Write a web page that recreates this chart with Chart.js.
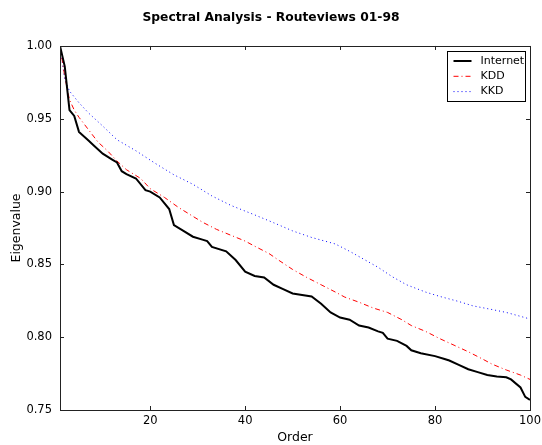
<!DOCTYPE html>
<html>
<head>
<meta charset="utf-8">
<script src="https://cdn.jsdelivr.net/npm/chart.js@4.4.0/dist/chart.umd.min.js"></script>
<style>
  html, body { margin: 0; padding: 0; background: #fff; }
</style>
</head>
<body>
<canvas id="myChart" width="542" height="445"></canvas>
<script>
// values
const internetOrder = [1, 2, 3, 4, 5, 7, 8, 10, 12, 13, 14, 15, 17, 19, 20, 22, 24, 25, 27, 29, 31, 32, 33, 36, 38, 40, 42, 44, 46, 48, 50, 52, 54, 56, 58, 60, 62, 64, 66, 68, 69, 70, 72, 74, 75, 77, 80, 82, 83, 85, 87, 89, 91, 93, 95, 96, 98, 99, 100];
const internetValue = [1.000, 0.986, 0.956, 0.952, 0.941, 0.935, 0.932, 0.926, 0.922, 0.920, 0.914, 0.912, 0.909, 0.901, 0.900, 0.896, 0.888, 0.877, 0.873, 0.869, 0.867, 0.866, 0.862, 0.859, 0.853, 0.845, 0.842, 0.841, 0.836, 0.833, 0.830, 0.829, 0.828, 0.823, 0.817, 0.8135, 0.812, 0.808, 0.8066, 0.804, 0.803, 0.799, 0.7975, 0.794, 0.791, 0.789, 0.787, 0.785, 0.784, 0.781, 0.778, 0.776, 0.774, 0.773, 0.7725, 0.771, 0.7655, 0.759, 0.757];

const kddOrder = [1, 2, 3, 4, 5, 7, 9, 11, 13, 15, 18, 20, 23, 26, 31, 34, 37, 40, 42, 45, 47, 50, 53, 56, 59, 61, 64, 67, 70, 73, 75, 78, 81, 84, 87, 90, 92, 95, 98, 100];
const kddValue = [1.000, 0.979, 0.963, 0.956, 0.951, 0.9425, 0.934, 0.928, 0.921, 0.915, 0.909, 0.902, 0.896, 0.889, 0.879, 0.874, 0.870, 0.866, 0.8625, 0.8575, 0.853, 0.8465, 0.841, 0.836, 0.831, 0.8275, 0.824, 0.820, 0.817, 0.812, 0.808, 0.804, 0.799, 0.7945, 0.790, 0.785, 0.7815, 0.7775, 0.774, 0.771];

const kkdOrder = [1, 2, 3, 5, 7, 10, 13, 17, 21, 25, 29, 33, 37, 42, 46, 50, 54, 59, 62, 65, 68, 71, 74, 78, 81, 85, 88, 92, 95, 100];
const kkdValue = [1.000, 0.977, 0.969, 0.961, 0.954, 0.945, 0.9356, 0.928, 0.9195, 0.9115, 0.905, 0.897, 0.8905, 0.884, 0.8786, 0.873, 0.8685, 0.864, 0.859, 0.8535, 0.848, 0.8415, 0.836, 0.831, 0.828, 0.8245, 0.8215, 0.819, 0.817, 0.8125];

const xTicks = [20, 40, 60, 80, 100];
const yTicks = [0.75, 0.80, 0.85, 0.90, 0.95, 1.00];

const seriesNames = ["Internet", "KDD", "KKD"];
const seriesColors = ["#000000", "#ff0000", "#0000ff"];
const seriesWidths = [2, 1, 1];
const seriesDash = [[], [5, 3, 1, 3], [1, 3]];

function toPoints(xs, ys) {
  return xs.map((x, i) => ({ x: x, y: ys[i] }));
}

const FONT = "'DejaVu Sans', sans-serif";

// frame, inward ticks and the boxed legend inside the axes
const framePlugin = {
  id: "frame",
  afterDatasetsDraw(chart) {
    const ctx = chart.ctx;
    const a = chart.chartArea;
    const xs = chart.scales.x;
    const ys = chart.scales.y;
    ctx.save();
    ctx.strokeStyle = "#222";
    ctx.lineWidth = 1;
    ctx.setLineDash([]);
    ctx.strokeRect(Math.round(a.left) + 0.5, Math.round(a.top) + 0.5,
                   Math.round(a.right - a.left), Math.round(a.bottom - a.top));
    ctx.beginPath();
    xTicks.forEach((v) => {
      const px = Math.round(xs.getPixelForValue(v)) + 0.5;
      ctx.moveTo(px, a.bottom); ctx.lineTo(px, a.bottom - 4);
      ctx.moveTo(px, a.top); ctx.lineTo(px, a.top + 4);
    });
    yTicks.forEach((v) => {
      const py = Math.round(ys.getPixelForValue(v)) + 0.5;
      ctx.moveTo(a.left, py); ctx.lineTo(a.left + 4, py);
      ctx.moveTo(a.right, py); ctx.lineTo(a.right - 4, py);
    });
    ctx.stroke();

    // legend
    const bw = 78, bh = 50;
    const bx = Math.round(a.right - 5 - bw) + 0.5;
    const by = Math.round(a.top + 5) + 0.5;
    ctx.fillStyle = "#fff";
    ctx.fillRect(bx, by, bw, bh);
    ctx.strokeStyle = "#000";
    ctx.strokeRect(bx, by, bw, bh);
    ctx.font = "11px " + FONT;
    ctx.textBaseline = "middle";
    ctx.textAlign = "left";
    seriesNames.forEach((name, i) => {
      const ry = by + 9.5 + i * 15.3;
      ctx.beginPath();
      ctx.strokeStyle = seriesColors[i];
      ctx.lineWidth = seriesWidths[i];
      ctx.setLineDash(seriesDash[i]);
      ctx.moveTo(bx + 6, ry); ctx.lineTo(bx + 24, ry);
      ctx.stroke();
      ctx.setLineDash([]);
      ctx.fillStyle = "#000";
      ctx.fillText(name, bx + 33, ry);
    });
    ctx.restore();
  }
};

const datasets = [
  toPoints(internetOrder, internetValue),
  toPoints(kddOrder, kddValue),
  toPoints(kkdOrder, kkdValue)
].map((pts, i) => ({
  label: seriesNames[i],
  data: pts,
  borderColor: seriesColors[i],
  backgroundColor: seriesColors[i],
  borderWidth: seriesWidths[i],
  borderDash: seriesDash[i],
  pointRadius: 0,
  tension: 0,
  fill: false
}));

const graphic = document.getElementById("myChart").getContext("2d");
const myChart = new Chart(graphic, {
  type: "line",
  data: { datasets: datasets },
  options: {
    responsive: false,
    animation: false,
    devicePixelRatio: 1,
    layout: { padding: 0 },
    plugins: {
      legend: { display: false },
      tooltip: { enabled: false },
      title: {
        display: true,
        text: "Spectral Analysis - Routeviews 01-98",
        color: "#000",
        font: { family: FONT, size: 12.3, weight: "bold", lineHeight: 1.2 },
        padding: { top: 10, bottom: 21.2 }
      }
    },
    scales: {
      x: {
        type: "linear",
        min: 1,
        max: 100,
        grid: { display: false, drawTicks: false },
        border: { display: false },
        afterBuildTicks: (scale) => { scale.ticks = xTicks.map((v) => ({ value: v })); },
        afterFit: (scale) => { scale.height = 35; scale.paddingLeft = 0; scale.paddingRight = 12; },
        ticks: {
          color: "#000",
          padding: 4,
          maxRotation: 0,
          font: { family: FONT, size: 11.5 },
          callback: (v) => String(v)
        },
        title: {
          display: true,
          text: "Order",
          color: "#000",
          font: { family: FONT, size: 12.5, lineHeight: 1.2 },
          padding: { top: 0, bottom: 0 }
        }
      },
      y: {
        type: "linear",
        min: 0.75,
        max: 1.0,
        grid: { display: false, drawTicks: false },
        border: { display: false },
        afterBuildTicks: (scale) => { scale.ticks = yTicks.map((v) => ({ value: v })); },
        afterFit: (scale) => { scale.width = 60; scale.paddingTop = 0; scale.paddingBottom = 0; },
        ticks: {
          color: "#000",
          padding: 8,
          font: { family: FONT, size: 11.5 },
          callback: (v) => Number(v).toFixed(2)
        },
        title: {
          display: true,
          text: "Eigenvalue",
          color: "#000",
          font: { family: FONT, size: 12.5, lineHeight: 1.2 },
          padding: { top: 9, bottom: 0 }
        }
      }
    }
  },
  plugins: [framePlugin]
});
</script>
</body>
</html>
